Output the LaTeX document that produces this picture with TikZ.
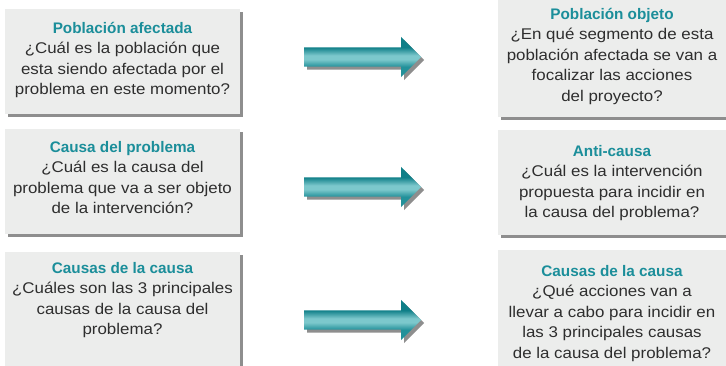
\documentclass[tikz,border=0pt]{standalone}
\usepackage{fontspec}
\setmainfont{Liberation Sans}
\newfontfamily\bodyfont[FakeStretch=1.09]{Liberation Sans}
\usetikzlibrary{shapes.arrows,shadows}
\definecolor{boxgray}{HTML}{ECEDEC}
\definecolor{shadowgray}{HTML}{8E8E8E}
\definecolor{titleteal}{HTML}{1B8E9A}
\definecolor{bodytext}{HTML}{2E2E2E}
\definecolor{tDark}{HTML}{0F7F88}
\definecolor{tMid}{HTML}{23919A}
\definecolor{tLight}{HTML}{7CC8CC}
\pgfdeclareverticalshading{tealshade}{100bp}{color(0bp)=(tMid); color(25bp)=(tMid); color(38bp)=(tMid); color(47bp)=(tLight); color(52bp)=(tLight); color(62bp)=(tDark); color(75bp)=(tDark); color(100bp)=(tDark)}
\newcommand\boxtitle[1]{{\rmfamily\bfseries\fontsize{15.3}{20.5}\selectfont\color{titleteal}#1}}
\tikzset{
  box/.style={fill=boxgray, inner sep=0pt, draw=none,
    drop shadow={shadow xshift=3pt, shadow yshift=-3pt, fill=shadowgray, opacity=1}},
  txt/.style={anchor=base, inner sep=0pt, text=bodytext,
    font=\bodyfont\fontsize{15.5}{20.5}\selectfont},
  tealarrow/.style={single arrow, shade, shading=tealshade, draw=none,
    minimum height=117pt, single arrow head extend=10.5pt,
    single arrow tip angle=90, inner xsep=0pt, inner ysep=9.5pt, anchor=tail,
    drop shadow={shadow xshift=3pt, shadow yshift=-3pt, fill=shadowgray, opacity=1}}
}
\begin{document}
\begin{tikzpicture}[x=1pt,y=-1pt]
\useasboundingbox (0,0) rectangle (726,365);
\clip (0,0) rectangle (726,365);
% boxes
\node[box, minimum width=235pt, minimum height=105pt] (bL1) at (122.5,61.5) {};
\node[box, minimum width=235pt, minimum height=105pt] (bL2) at (122.5,181.5) {};
\node[box, minimum width=235pt, minimum height=128pt] (bL3) at (122.5,316) {};
\node[box, minimum width=238pt, minimum height=127pt] (bR1) at (617,53.5) {};
\node[box, minimum width=238pt, minimum height=105pt] (bR2) at (617,182.5) {};
\node[box, minimum width=238pt, minimum height=130pt] (bR3) at (617,315) {};
% texts
\node[txt] (tL1) at (122.5,33) {\begin{tabular}[t]{@{}c@{}}\boxtitle{Población afectada}\\ ¿Cuál es la población que\\ esta siendo afectada por el\\ problema en este momento?\end{tabular}};
\node[txt] (tL2) at (122.5,152) {\begin{tabular}[t]{@{}c@{}}\boxtitle{Causa del problema}\\ ¿Cuál es la causa del\\ problema que va a ser objeto\\ de la intervención?\end{tabular}};
\node[txt] (tL3) at (122.5,273) {\begin{tabular}[t]{@{}c@{}}\boxtitle{Causas de la causa}\\ ¿Cuáles son las 3 principales\\ causas de la causa del\\ problema?\end{tabular}};
\node[txt] (tR1) at (612,19) {\begin{tabular}[t]{@{}c@{}}\boxtitle{Población objeto}\\ ¿En qué segmento de esta\\ población afectada se van a\\ focalizar las acciones\\ del proyecto?\end{tabular}};
\node[txt] (tR2) at (612,156) {\begin{tabular}[t]{@{}c@{}}\boxtitle{Anti-causa}\\ ¿Cuál es la intervención\\ propuesta para incidir en\\ la causa del problema?\end{tabular}};
\node[txt] (tR3) at (612,276) {\begin{tabular}[t]{@{}c@{}}\boxtitle{Causas de la causa}\\ ¿Qué acciones van a\\ llevar a cabo para incidir en\\ las 3 principales causas\\ de la causa del problema?\end{tabular}};
% arrows
\node[tealarrow] (a1) at (304,57) {};
\node[tealarrow] (a2) at (304,187) {};
\node[tealarrow] (a3) at (304,320) {};
\end{tikzpicture}
\end{document}
